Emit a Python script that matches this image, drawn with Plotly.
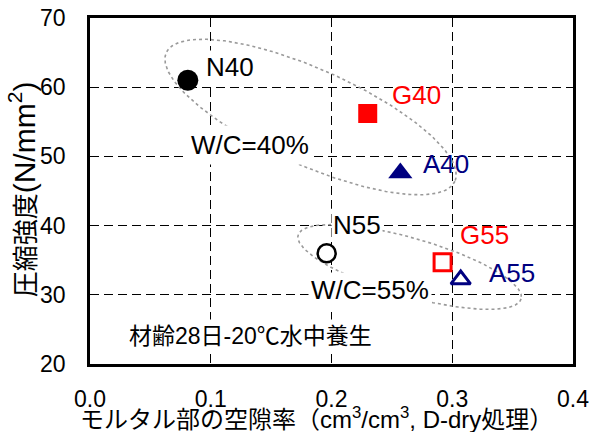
import numpy as np
import plotly.graph_objects as go

# Mortar porosity (D-dry) vs. compressive strength, 28-day water curing
names = ["N40", "G40", "A40", "N55", "G55", "A55"]
porosity = [0.081, 0.230, 0.257, 0.196, 0.292, 0.307]
strength = [61.0, 56.2, 47.6, 36.0, 34.7, 32.2]

x_ticks = [0.0, 0.1, 0.2, 0.3, 0.4]
y_ticks = [20, 30, 40, 50, 60, 70]

# marker styles per specimen
symbols = ["circle", "square", "triangle-up", "circle", "square", "triangle-up"]
fills = ["black", "#FF0000", "#000080", "white", "white", "white"]
edges = ["black", "#FF0000", "#000080", "black", "#FF0000", "#000080"]
sizes = [21, 19, 21, 18, 17, 17]
edge_w = [0, 0, 0, 2.5, 3, 3]
label_col = ["black", "#FF0000", "#000080", "black", "#FF0000", "#000080"]
label_bg = ["white", None, None, "white", None, None]
label_shift = [(42, 13), (49, 19), (46, 9), (30, 28), (42, 27), (51, 7)]

FONT = "Liberation Sans, Arial, Noto Sans CJK JP"
W, H = 589, 432
ML, MR, MT, MB = 90, 16, 18, 68
XR, YR = (0.0, 0.4), (20, 70)
px_x = (W - ML - MR) / (XR[1] - XR[0])
px_y = (H - MT - MB) / (YR[1] - YR[0])


def ellipse(cx, cy, a, b, deg, n=240):
    """Tilted ellipse; a, b in screen pixels, tilt clockwise on screen."""
    t = np.linspace(0, 2 * np.pi, n)
    th = np.deg2rad(deg)
    u, v = a * np.cos(t), b * np.sin(t)
    dx = u * np.cos(th) - v * np.sin(th)
    dy = u * np.sin(th) + v * np.cos(th)
    return cx + dx / px_x, cy - dy / px_y


fig = go.Figure()

# W/C group outlines
for cx, cy, a, b, deg in [(0.1827, 55.69, 158, 48, 24), (0.2647, 34.02, 116, 29, 16)]:
    ex, ey = ellipse(cx, cy, a, b, deg)
    fig.add_trace(go.Scatter(x=ex, y=ey, mode="lines", hoverinfo="skip",
                             line=dict(color="#9a9a9a", width=1.6, dash="dot")))

for i, nm in enumerate(names):
    fig.add_trace(go.Scatter(
        x=[porosity[i]], y=[strength[i]], mode="markers", name=nm,
        marker=dict(symbol=symbols[i], size=sizes[i], color=fills[i],
                    line=dict(color=edges[i], width=edge_w[i]))))
    dx, dy = label_shift[i]
    fig.add_annotation(x=porosity[i], y=strength[i], text=nm, showarrow=False,
                       xshift=dx, yshift=dy, xanchor="center", yanchor="middle",
                       font=dict(family=FONT, size=26, color=label_col[i]),
                       bgcolor=label_bg[i], borderpad=1)

notes = [("W/C=40%", 0.1328, 51.69, 26, 4),
         ("W/C=55%", 0.2316, 30.74, 26, 2),
         ("材齢28日-20℃水中養生", 0.1326, 24.07, 23, 3)]
for txt, x, y, fs, pad in notes:
    fig.add_annotation(x=x, y=y, text=txt, showarrow=False, xanchor="center",
                       yanchor="middle", bgcolor="white", borderpad=pad,
                       font=dict(family=FONT, size=fs, color="black"))

# axis titles
fig.add_annotation(xref="paper", yref="paper", x=0.469, y=-0.155,
                   text="モルタル部の空隙率（cm<sup>3</sup>/cm<sup>3</sup>, D-dry処理）",
                   showarrow=False, xanchor="center", yanchor="middle",
                   font=dict(family=FONT, size=24, color="black"))
fig.add_annotation(xref="paper", yref="paper", x=-0.14, y=0.506,
                   text="圧縮強度<span style='font-size:30px'>(N/mm<sup>2</sup>)</span>",
                   textangle=-90, showarrow=False, xanchor="center", yanchor="middle",
                   font=dict(family=FONT, size=26, color="black"))

axis_common = dict(showline=True, linecolor="black", linewidth=2.5, mirror=True,
                   showgrid=True, gridcolor="black", gridwidth=1, griddash="9px,5px",
                   zeroline=False, ticks="", ticklabeloverflow="allow", automargin=False,
                   tickfont=dict(family=FONT, size=23, color="black"))
fig.update_xaxes(range=list(XR), tickvals=x_ticks, tickformat=".1f",
                 ticklabelstandoff=13, **axis_common)
fig.update_yaxes(range=list(YR), tickvals=y_ticks, ticklabelstandoff=17, **axis_common)

fig.update_layout(width=W, height=H, showlegend=False,
                  margin=dict(l=ML, r=MR, t=MT, b=MB),
                  plot_bgcolor="white", paper_bgcolor="white")

fig.write_html("out.html")
